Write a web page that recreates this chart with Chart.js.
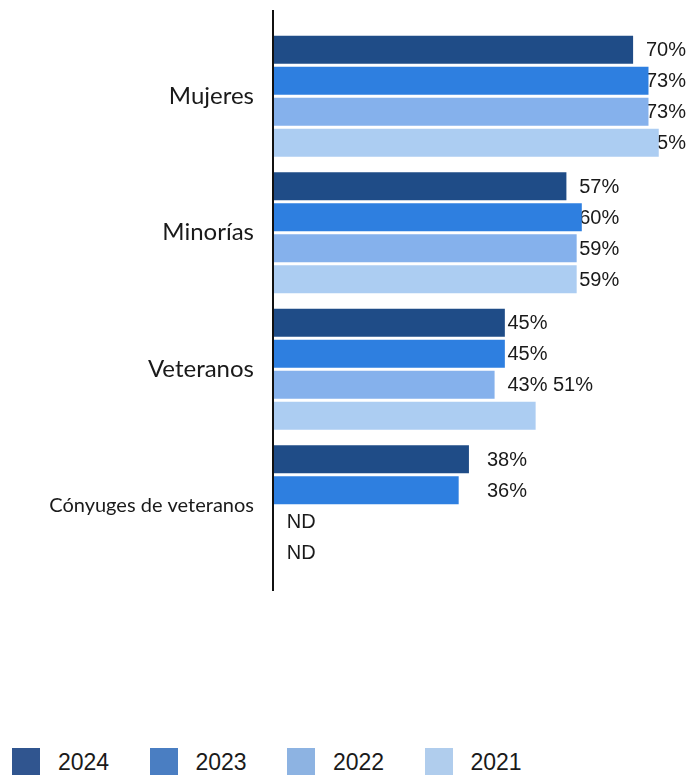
<!DOCTYPE html>
<html>
<head>
<meta charset="utf-8">
<script src="https://cdn.jsdelivr.net/npm/chart.js@4"></script>
<style>
  html, body { margin: 0; padding: 0; background: #fff; }
  #wrap { position: relative; width: 689px; height: 775px; overflow: hidden; }
  #chart { position: absolute; left: 0; top: 0; }
  #legend { position: absolute; left: 12px; top: 748px; display: flex;
            font: 23px "Liberation Sans", Arial, sans-serif; color: #1a1a1a; }
  .item { display: flex; align-items: center; width: 137.5px; }
  .sw { width: 28px; height: 28px; margin-right: 18px; }
</style>
</head>
<body>
<div id="wrap">
  <canvas id="chart" width="689" height="600"></canvas>
  <div id="legend"></div>
</div>
<script>
"use strict";

const categories = ["Mujeres", "Minorías", "Veteranos", "Cónyuges de veteranos"];
const years = ["2024", "2023", "2022", "2021"];
const v2024 = [70, 57, 45, 38];
const v2023 = [73, 60, 45, 36];
const v2022 = [73, 59, 43, null];
const v2021 = [75, 59, 51, null];
const t2024 = ["70%", "57%", "45%", "38%"];
const t2023 = ["73%", "60%", "45%", "36%"];
const t2022 = ["73%", "59%", "43% 51%", "ND"];
const t2021 = ["75%", "59%", "", "ND"];
const barColors = ["#1f4c87", "#2e7fe0", "#85b1ec", "#accdf2"];
const legendColors = ["#30558f", "#4a7ec2", "#8db3e2", "#b0cded"];

const series = [v2024, v2023, v2022, v2021];
const texts = [t2024, t2023, t2022, t2021];

// where each group's value labels start (x units); ND sits near zero
const labelAt = [72.5, 59.5, 45.5, 41.5];
const ndAt = 2.5;

const valueText = {
  id: "valueText",
  beforeDatasetsDraw(chart) {
    const { ctx, scales: { x } } = chart;
    ctx.save();
    ctx.font = '20px "Liberation Sans", Arial, sans-serif';
    ctx.fillStyle = "#1a1a1a";
    ctx.textAlign = "left";
    ctx.textBaseline = "middle";
    chart.data.datasets.forEach((ds, d) => {
      chart.getDatasetMeta(d).data.forEach((bar, i) => {
        const txt = texts[d][i];
        if (!txt) return;
        const at = ds.data[i] === null ? ndAt : labelAt[i];
        ctx.fillText(txt, x.getPixelForValue(at), bar.y + 1);
      });
    });
    ctx.restore();
  },
};

const axisLine = {
  id: "axisLine",
  afterDatasetsDraw(chart) {
    const { ctx, chartArea } = chart;
    ctx.save();
    ctx.strokeStyle = "#111";
    ctx.lineWidth = 2;
    ctx.beginPath();
    ctx.moveTo(chartArea.left - 1, 10);
    ctx.lineTo(chartArea.left - 1, 591);
    ctx.stroke();
    ctx.restore();
  },
};

const chart = new Chart(document.getElementById("chart"), {
  type: "bar",
  data: {
    labels: categories,
    datasets: years.map((y, i) => ({
      label: y,
      data: series[i],
      backgroundColor: barColors[i],
      borderWidth: 0,
      barPercentage: 0.903,
      categoryPercentage: 0.909,
    })),
  },
  options: {
    indexAxis: "y",
    responsive: false,
    animation: false,
    devicePixelRatio: 1,
    layout: { padding: { top: 28, bottom: 26, left: 0, right: 4.6 } },
    plugins: { legend: { display: false }, tooltip: { enabled: false } },
    scales: {
      x: { min: 0, max: 80, display: false },
      y: {
        afterFit: (s) => { s.width = 274; s.paddingTop = 0; s.paddingBottom = 0; },
        grid: { display: false },
        border: { display: false },
        ticks: {
          color: "#1a1a1a",
          padding: 12,
          font: (c) => c.index === 3 ? { family: "Lato", size: 20 } : { family: "Lato", size: 24 },
        },
      },
    },
  },
  plugins: [valueText, axisLine],
});

// legend below the plot
const leg = document.getElementById("legend");
chart.data.datasets.forEach((ds, i) => {
  const item = document.createElement("div");
  item.className = "item";
  item.innerHTML = `<span class="sw" style="background:${legendColors[i]}"></span><span>${ds.label}</span>`;
  leg.appendChild(item);
});
</script>
</body>
</html>
